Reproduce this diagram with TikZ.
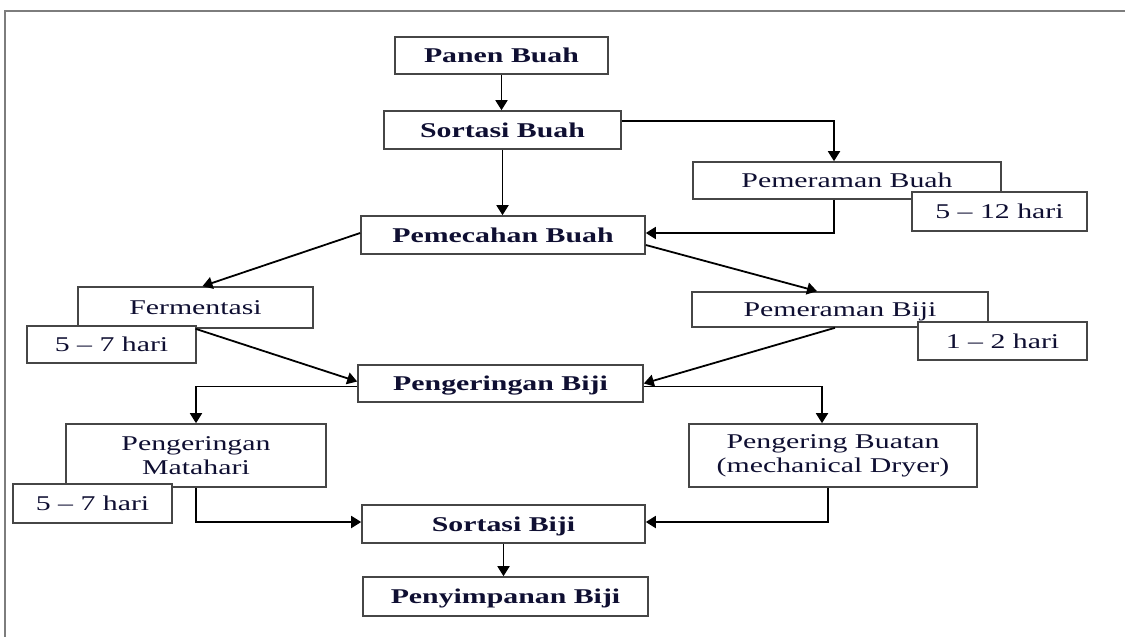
\documentclass[tikz,border=0pt]{standalone}
\usepackage{fontspec}
\setmainfont{Liberation Serif}[FakeStretch=1.42]
\usetikzlibrary{arrows.meta,calc}

\definecolor{testo}{RGB}{15,15,50}
\definecolor{bordo}{RGB}{70,70,70}
\definecolor{cornice}{RGB}{125,125,125}

\tikzset{
    kotak/.style={draw=bordo, line width=0.8pt, fill=white, text=testo, inner sep=0pt,
        text height=7pt, text depth=0pt, font=\fontsize{10.5}{12}\selectfont},
    kotakb/.style={kotak, font=\fontsize{10.5}{12}\selectfont\bfseries},
    kotakdue/.style={kotak, align=center, text height=, text depth=},
    freccia/.style={line width=0.9pt, -{Triangle[length=5pt,width=6pt]}}
}

\begin{document}
\begin{tikzpicture}[x=0.5pt, y=-0.5pt]
        \useasboundingbox (0, 0) rectangle (1125, 637);

        % Cornice
        \draw[cornice, line width=0.7pt] (5, 637) -- (5, 11) -- (1125, 11);

        % Blocchi principali
        \node[kotakb, minimum width=106.5pt, minimum height=18.5pt] (panen) at (501.5, 55.5) {Panen Buah};
        \node[kotakb, minimum width=118.5pt, minimum height=19pt] (sortbuah) at (502.5, 130) {Sortasi Buah};
        \node[kotak, minimum width=154pt, minimum height=18.5pt] (pembuah) at (847, 180.5) {Pemeraman Buah};
        \node[kotakb, minimum width=142pt, minimum height=19pt] (pecah) at (503, 235) {Pemecahan Buah};
        \node[kotak, minimum width=117.5pt, minimum height=20.5pt] (ferm) at (195.5, 307.5) {Fermentasi};
        \node[kotak, minimum width=148pt, minimum height=17.5pt] (pembiji) at (840, 309.5) {Pemeraman Biji};
        \node[kotakb, minimum width=142.5pt, minimum height=18.5pt] (kering) at (500.5, 383.5) {Pengeringan Biji};
        \node[kotakdue, minimum width=130pt, minimum height=31.5pt] (matahari) at (196, 455.5) {Pengeringan\\Matahari};
        \node[kotakdue, minimum width=144pt, minimum height=31.5pt] (buatan) at (833, 455.5) {Pengering Buatan\\(mechanical Dryer)};
        \node[kotakb, minimum width=141.5pt, minimum height=19pt] (sortbiji) at (503.5, 524) {Sortasi Biji};
        \node[kotakb, minimum width=142.5pt, minimum height=19.5pt] (simpan) at (505.5, 596.5) {Penyimpanan Biji};

        % Durata (sopra i blocchi)
        \node[kotak, minimum width=87.5pt, minimum height=19.5pt] (hari1) at (999.5, 211.5) {5 -- 12 hari};
        \node[kotak, minimum width=84.5pt, minimum height=18.5pt] (hari2) at (111.5, 344.5) {5 -- 7 hari};
        \node[kotak, minimum width=84.5pt, minimum height=19pt] (hari3) at (1002.5, 341) {1 -- 2 hari};
        \node[kotak, minimum width=79.5pt, minimum height=19.5pt] (hari4) at (92.5, 503.5) {5 -- 7 hari};

        % Frecce
        \draw[freccia] (panen.south) -- (panen.south |- sortbuah.north);
        \draw[freccia] (sortbuah.south) -- (sortbuah.south |- pecah.north);
        \draw[freccia] ($(sortbuah.east)+(0,-9)$) -| ($(pembuah.north)+(-13,0)$);
        \draw[freccia] ($(pembuah.south)+(-13,0)$) |- ($(pecah.east)+(0,-2)$);
        \draw[freccia] ($(pecah.west)+(0,-2)$) -- ($(ferm.north)+(7,0)$);
        \draw[freccia] ($(pecah.east)+(0,10)$) -- ($(pembiji.north)+(-23,0)$);
        \draw[freccia] (ferm.south) -- ($(kering.west)+(0,-2)$);
        \draw[freccia] ($(pembiji.south)+(-5,0)$) -- (kering.east);
        \draw[freccia] ($(kering.west)+(0,3)$) -| (matahari.north);
        \draw[freccia] ($(kering.east)+(0,3)$) -| ($(buatan.north)+(-11,0)$);
        \draw[freccia] (matahari.south) |- ($(sortbiji.west)+(0,-2)$);
        \draw[freccia] ($(buatan.south)+(-5,0)$) |- ($(sortbiji.east)+(0,-2)$);
        \draw[freccia] (sortbiji.south) -- (sortbiji.south |- simpan.north);
    \end{tikzpicture}
\end{document}
